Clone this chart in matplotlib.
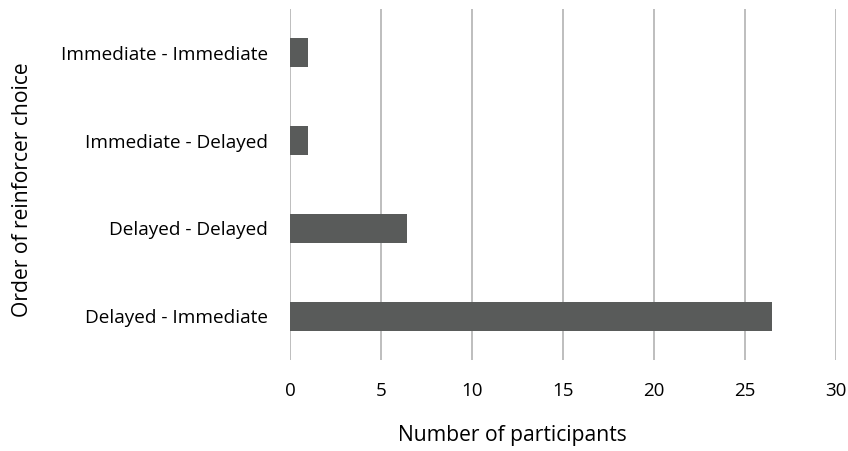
import matplotlib
matplotlib.use("Agg")
import matplotlib.pyplot as plt
import numpy as np

# data (bottom to top)
categories = ["Delayed - Immediate", "Delayed - Delayed", "Immediate - Delayed", "Immediate - Immediate"]
participants = [26.5, 6.4, 1, 1]
xticks = [0, 5, 10, 15, 20, 25, 30]

plt.rcParams['font.family'] = ['Open Sans', 'DejaVu Sans']

fig = plt.figure(figsize=(8.48, 4.51), dpi=100)
ax = fig.add_axes([0.342, 0.202, 0.644, 0.778])

y = np.arange(len(categories))
ax.barh(y, participants, height=0.33, color='#595b5a', zorder=3)

ax.set_xlim(0, 30)
ax.set_ylim(-0.5, len(categories) - 0.5)
ax.set_xticks(xticks)
ax.set_yticks(y)
ax.set_yticklabels(categories, fontsize=13.7)
ax.xaxis.grid(True, color='#b3b3b3', lw=1.2, zorder=0)
for s in ax.spines.values():
    s.set_visible(False)
ax.tick_params(axis='y', length=0, pad=16)
ax.tick_params(axis='x', length=0, pad=16, labelsize=13.5)

ax.set_xlabel("Number of participants", fontsize=15.2, labelpad=18)
ax.xaxis.label.set_x(0.407)
ax.set_ylabel("Order of reinforcer choice", fontsize=15.2, labelpad=20)
ax.yaxis.label.set_y(0.484)

plt.savefig('out.png', dpi=100)
